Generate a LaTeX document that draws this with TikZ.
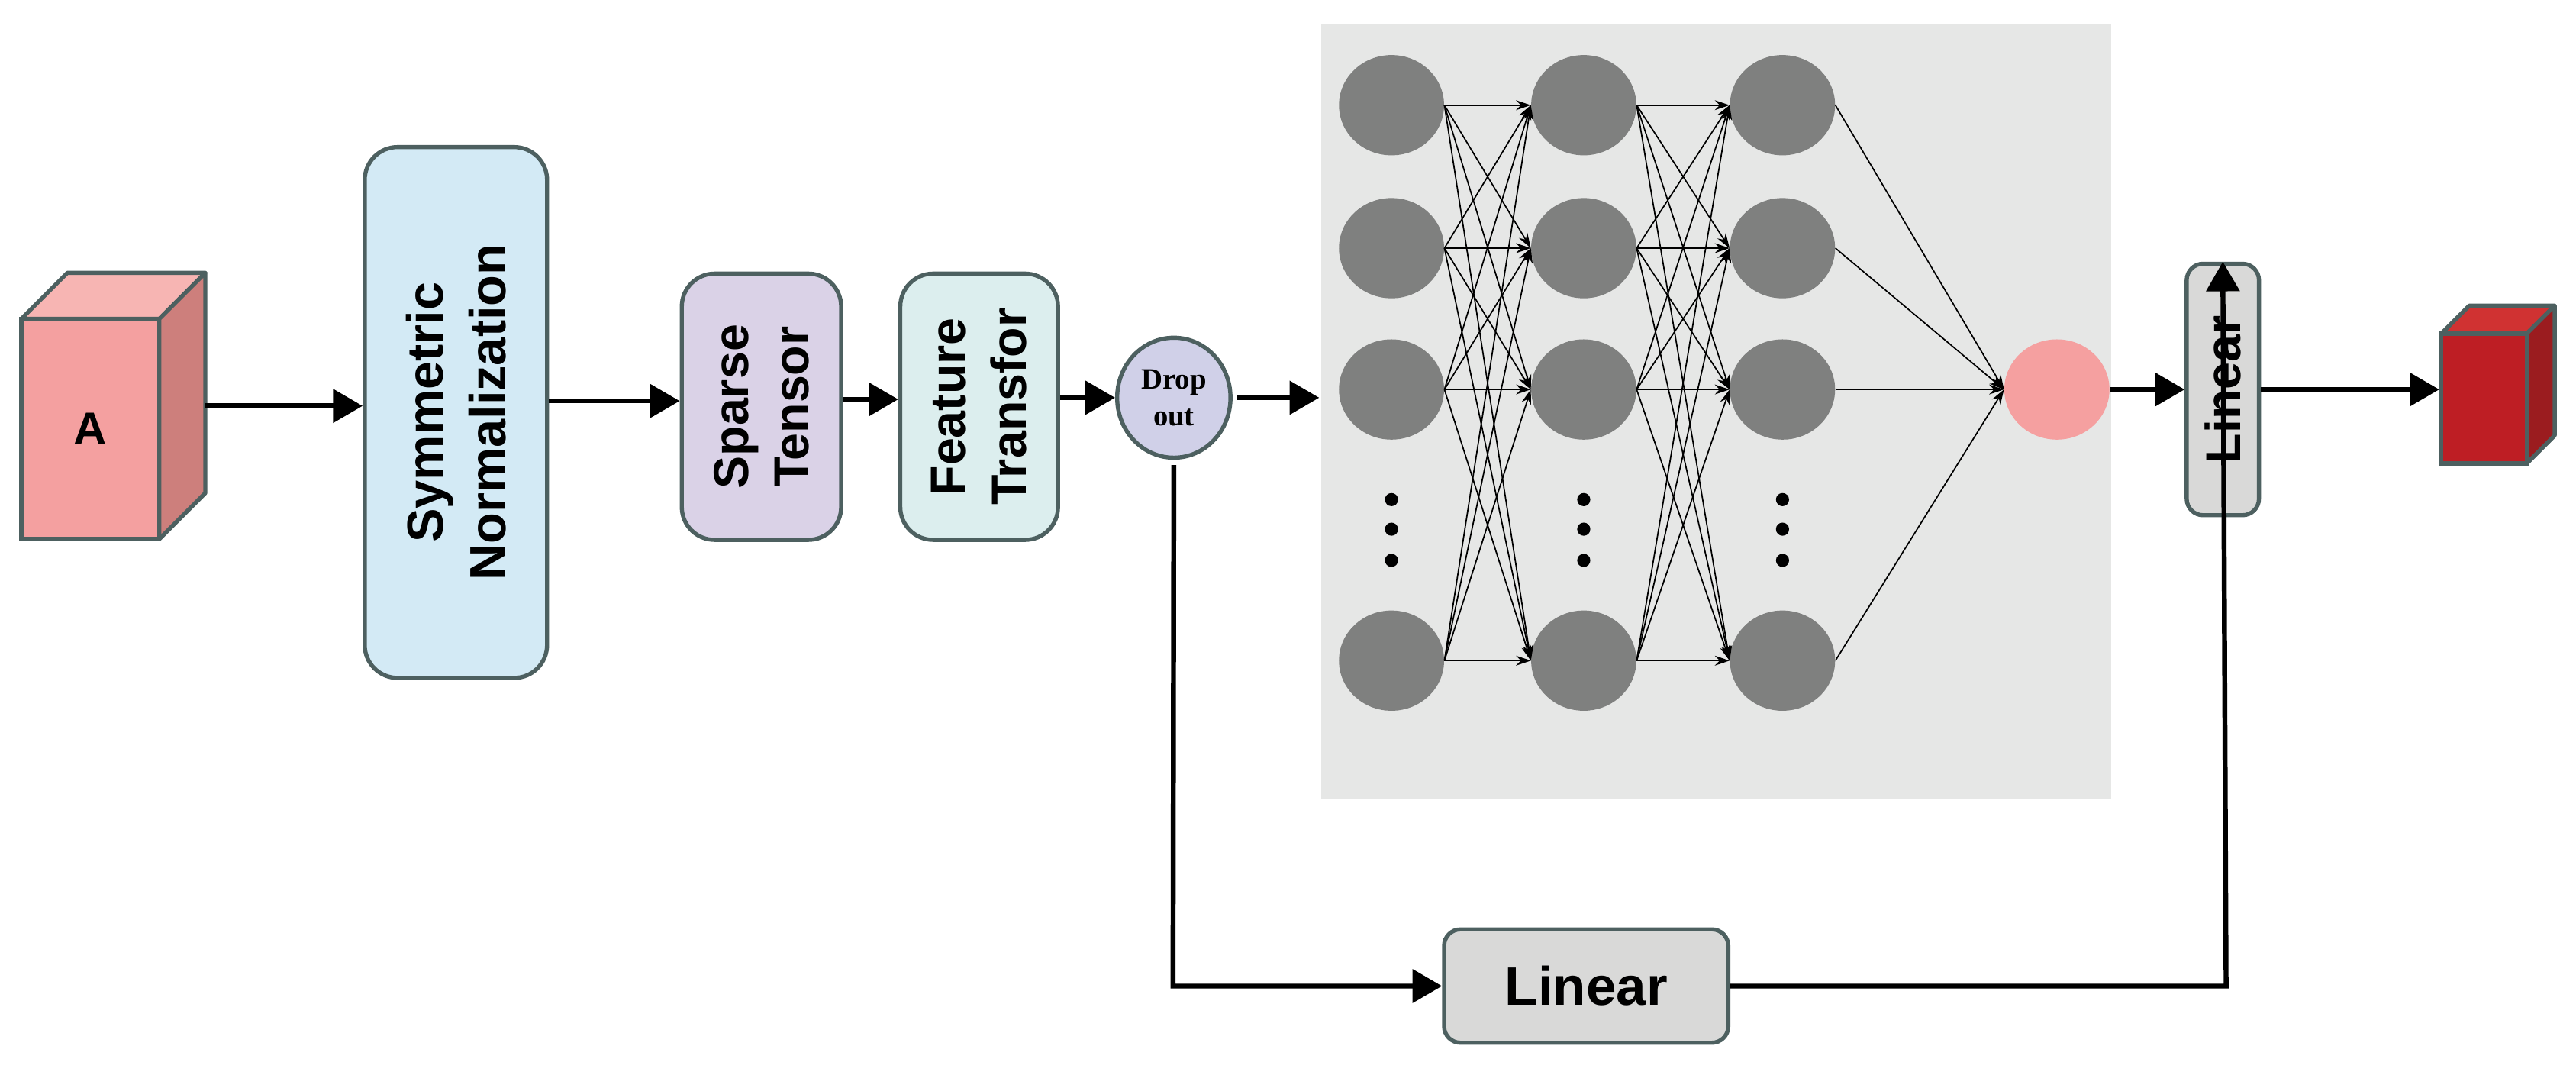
\documentclass[tikz,border=0pt]{standalone}
\usepackage{fontspec}
\setmainfont{Liberation Sans}
\newfontfamily\tms{Liberation Serif}
\usetikzlibrary{arrows.meta,shapes.geometric}
\definecolor{bord}{HTML}{4D6060}
\definecolor{neur}{HTML}{7F807F}
\begin{document}
\begin{tikzpicture}[x=1pt,y=-1pt,
  box/.style={draw=bord,line width=2.5pt,rounded corners=20pt,rotate=90,inner sep=0pt,align=center,font=\fontsize{31}{38}\selectfont\bfseries},
  big/.style={-{Triangle[length=18pt,width=20pt]},line width=3pt},
  neu/.style={ellipse,fill=neur,minimum width=64pt,minimum height=61pt,inner sep=0pt},
  ed/.style={-{Stealth[length=9pt,width=6pt]},line width=0.8pt},
  dot/.style={circle,fill=black,minimum size=8pt,inner sep=0pt}]
\useasboundingbox (0,0) rectangle (1568,654);
% cube A
\fill[fill={rgb,255:red,247;green,181;blue,179},draw=bord,line width=2.5pt,line join=round] (13,194)--(41,166)--(125,166)--(97,194)--cycle;
\fill[fill={rgb,255:red,205;green,127;blue,124},draw=bord,line width=2.5pt,line join=round] (97,194)--(125,166)--(125,300)--(97,328)--cycle;
\node[draw=bord,line width=2.5pt,fill={rgb,255:red,244;green,160;blue,160},minimum width=84pt,minimum height=134pt,inner sep=0pt,font=\fontsize{28}{30}\selectfont\bfseries] (A) at (55,261) {A};
% boxes
\node[box,fill={rgb,255:red,211;green,234;blue,245},minimum width=323pt,minimum height=111pt] (sym) at (277.5,251) {Symmetric\\Normalization};
\node[box,fill={rgb,255:red,218;green,210;blue,231},minimum width=162pt,minimum height=97pt,font=\fontsize{30}{37}\selectfont\bfseries] (sp) at (463.5,247.5) {Sparse\\Tensor};
\node[box,fill={rgb,255:red,220;green,238;blue,238},minimum width=162pt,minimum height=96pt,font=\fontsize{30}{37}\selectfont\bfseries] (ft) at (596,247.5) {Feature\\Transfor};
\node[ellipse,draw=bord,line width=2.5pt,fill={rgb,255:red,208;green,208;blue,232},minimum width=69pt,minimum height=73pt,inner sep=0pt,align=center,font=\tms\fontsize{18}{22}\selectfont\bfseries] (dr) at (714.5,242) {Drop\\out};
\draw[big] (125,247) -- (sym.north|-0,247);
\draw[big] (sym.south|-0,244) -- (sp.north|-0,244);
\draw[big] (sp.south|-0,243) -- (ft.north|-0,243);
\draw[big] (ft.south|-0,242) -- (dr.west);
% panel
\fill[fill={rgb,255:red,230;green,231;blue,230}] (804,15) rectangle (1285,486);
\coordinate (pin) at (803,242);
\draw[big] (dr.east) ++(3,0) coordinate (dre) -- (pin);
\foreach \c/\x in {1/847,2/964,3/1085}{
  \foreach \r/\y in {1/64,2/151,3/237,4/402}{
    \node[neu] (n\c-\r) at (\x,\y) {};
  }
  \node[dot] (d\c-1) at (\x,304) {};
  \node[dot] (d\c-2) at (\x,322) {};
  \node[dot] (d\c-3) at (\x,341) {};
}
\node[neu,fill={rgb,255:red,245;green,160;blue,160}] (out) at (1252,237) {};
\foreach \i in {1,...,4}{
  \foreach \j in {1,...,4}{
    \draw[ed] (n1-\i.east) -- (n2-\j.west);
    \draw[ed] (n2-\i.east) -- (n3-\j.west);
  }
  \draw[ed] (n3-\i.east) -- (out.west);
}
% right linear
\node[draw=bord,line width=2.5pt,rounded corners=10pt,fill={rgb,255:red,217;green,217;blue,216},rotate=90,minimum width=153pt,minimum height=44pt,inner sep=0pt,font=\fontsize{30}{36}\selectfont\bfseries] (lin2) at (1353,237) {Linear};
\draw[big] (out.east) -- (lin2.north);
% red cube
\fill[fill={rgb,255:red,208;green,50;blue,50},draw=bord,line width=2.5pt,line join=round] (1486,203)--(1503,186)--(1555,186)--(1538,203)--cycle;
\fill[fill={rgb,255:red,155;green,28;blue,31},draw=bord,line width=2.5pt,line join=round] (1538,203)--(1555,186)--(1555,265)--(1538,282)--cycle;
\node[draw=bord,line width=2.5pt,fill={rgb,255:red,190;green,30;blue,36},minimum width=52pt,minimum height=79pt,inner sep=0pt] (B) at (1512,242.5) {};
\draw[big] (lin2.south|-0,237) -- (B.west|-0,237);
% bottom linear
\node[draw=bord,line width=2.5pt,rounded corners=10pt,fill={rgb,255:red,217;green,217;blue,216},minimum width=173pt,minimum height=69pt,inner sep=0pt,font=\fontsize{33}{36}\selectfont\bfseries] (lin1) at (965.5,600) {Linear};
\draw[big] (dr.south|-0,283) -- (714,600) -- (lin1.west);
\draw[big] (lin1.east) -- (1355,600) -- (lin2.east);
\end{tikzpicture}
\end{document}
